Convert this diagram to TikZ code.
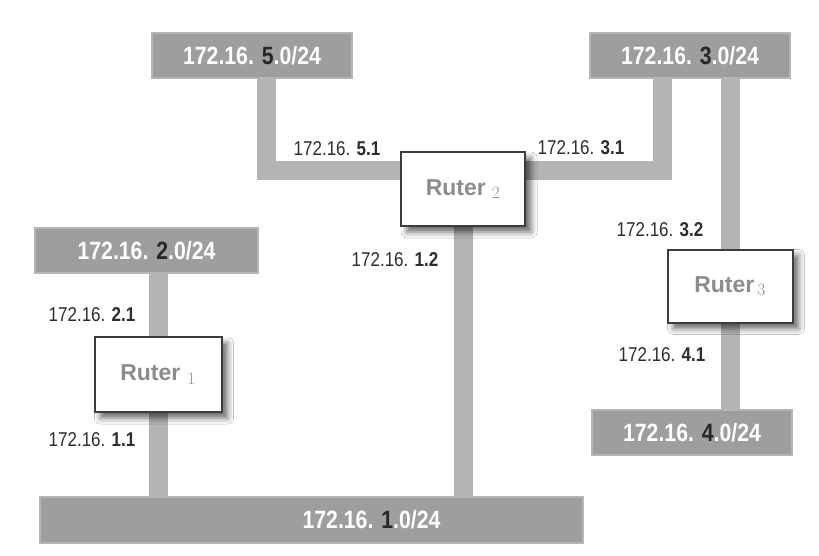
\documentclass[tikz,border=0pt]{standalone}
\usepackage{fontspec}
\setmainfont{Liberation Sans}
\newfontfamily\narrowfont[FakeStretch=0.85]{Liberation Sans}
\usetikzlibrary{shadows.blur,backgrounds}
\definecolor{netgray}{RGB}{158,158,158}
\definecolor{stubgray}{RGB}{180,180,180}
\definecolor{boxedge}{RGB}{60,60,60}
\definecolor{rutertext}{RGB}{140,140,140}
\definecolor{addrtext}{RGB}{45,45,45}
\definecolor{netdigit}{RGB}{40,40,40}
\newcommand{\subnet}[1]{\textbf{172.16. \textcolor{netdigit}{#1}.0/24}}
\newcommand{\ipaddr}[1]{172.16. \textbf{#1}}
\newcommand{\rutersub}[2]{Ruter\hspace{#1}$_{#2}$}
\begin{document}
\begin{tikzpicture}[x=1pt,y=-1pt,
  nettext/.style={text=white, font=\narrowfont\fontsize{25}{30}\selectfont},
  net/.style={nettext, fill=netgray, draw=netgray!75, line width=2pt, minimum height=45pt, inner sep=0pt},
  ruter/.style={draw=boxedge, line width=2pt, fill=white, minimum height=74pt, minimum width=124pt, text=rutertext, font=\bfseries\fontsize{23}{28}\selectfont, blur shadow={shadow xshift=6pt, shadow yshift=-6pt, shadow blur radius=6pt, shadow opacity=60}},
  addr/.style={text=addrtext, font=\narrowfont\fontsize{20}{24}\selectfont, inner sep=0pt},
  stub/.style={draw=stubgray, line width=19pt}]
\useasboundingbox (0,0) rectangle (819,556);
\node[net, minimum width=200pt] (net5) at (252,55.5) {\subnet{5}};
\node[net, minimum width=200pt] (net3) at (690,55.5) {\subnet{3}};
\node[net, minimum width=223pt] (net2) at (146.5,250.5) {\subnet{2}};
\node[net, minimum width=200pt] (net4) at (692,432.5) {\subnet{4}};
\node[net, minimum width=543pt, minimum height=46pt, label={[nettext, xshift=60pt]center:{\subnet{1}}}] (net1) at (311.5,520) {};
\node[ruter] (r2) at (463,189) {\rutersub{6pt}{2}};
\node[ruter, minimum width=125pt, minimum height=73pt] (r3) at (730,286) {\rutersub{3pt}{3}};
\node[ruter, minimum width=127pt, minimum height=75pt] (r1) at (158,374.5) {\rutersub{7pt}{1}};
\node[addr] (a51) at (337,149) {\ipaddr{5.1}};
\node[addr] (a31) at (581,148) {\ipaddr{3.1}};
\node[addr] (a32) at (660,230) {\ipaddr{3.2}};
\node[addr] (a12) at (395,260) {\ipaddr{1.2}};
\node[addr] (a21) at (92,315) {\ipaddr{2.1}};
\node[addr] (a11) at (92,440) {\ipaddr{1.1}};
\node[addr] (a41) at (662,355) {\ipaddr{4.1}};
\begin{pgfonlayer}{background}
\fill[white] (0,0) rectangle (819,556);
\draw[stub] ([xshift=14pt]net5.south) |- ([yshift=18pt]r2.west);
\draw[stub] ([xshift=-28pt]net3.south) |- ([yshift=18pt]r2.east);
\draw[stub] (r3.north |- net3.south) -- (r3.north);
\draw[stub] (r3.south) -- (r3.south |- net4.north);
\draw[stub] (r1.north |- net2.south) -- (r1.north);
\draw[stub] (r1.south) -- (r1.south |- net1.north);
\draw[stub] (r2.south) -- (r2.south |- net1.north);
\end{pgfonlayer}
\end{tikzpicture}
\end{document}
